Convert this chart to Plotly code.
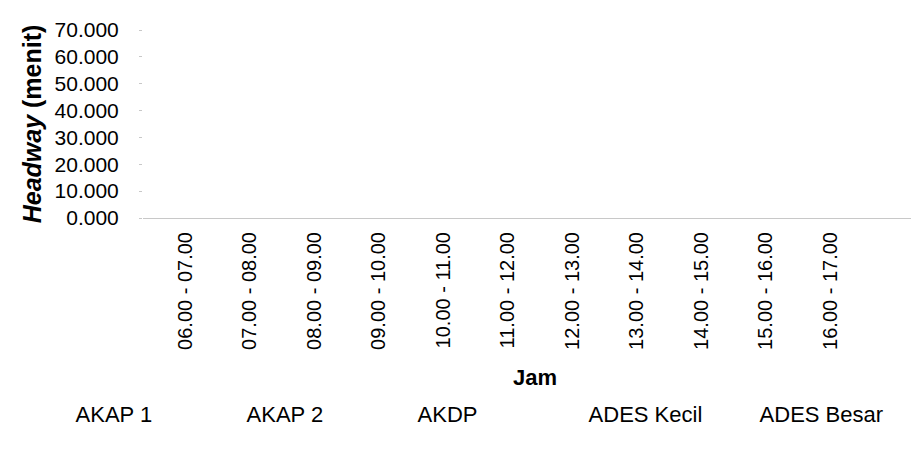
import plotly.graph_objects as go

# Categories (hour intervals)
jam = ["06.00 - 07.00", "07.00 - 08.00", "08.00 - 09.00", "09.00 - 10.00",
       "10.00 - 11.00", "11.00 - 12.00", "12.00 - 13.00", "13.00 - 14.00",
       "14.00 - 15.00", "15.00 - 16.00", "16.00 - 17.00"]

# Series names from the legend; no data marks are visible in the scanned reference
series_names = ["AKAP 1", "AKAP 2", "AKDP", "ADES Kecil", "ADES Besar"]
akap1 = [None] * len(jam)
akap2 = [None] * len(jam)
akdp = [None] * len(jam)
ades_kecil = [None] * len(jam)
ades_besar = [None] * len(jam)
series_values = [akap1, akap2, akdp, ades_kecil, ades_besar]

y_ticks = [0, 10, 20, 30, 40, 50, 60, 70]

FONT = "Liberation Sans, Arial, sans-serif"

fig = go.Figure()
for name, vals in zip(series_names, series_values):
    fig.add_trace(go.Scatter(
        x=jam, y=vals, name=name, mode="lines",
        line=dict(color="rgba(0,0,0,0)", width=1),
        showlegend=True,
    ))

fig.update_layout(
    width=919, height=470,
    margin=dict(l=135, r=0, t=22, b=260),
    paper_bgcolor="white", plot_bgcolor="white",
    font=dict(family=FONT, size=21, color="black"),
    showlegend=True,
    legend=dict(
        orientation="h", x=-0.137, xanchor="left", y=-1.042, yanchor="middle",
        font=dict(family=FONT, size=22, color="black"),
        entrywidth=126, entrywidthmode="pixels",
        itemwidth=30, bgcolor="rgba(0,0,0,0)",
    ),
    xaxis=dict(
        type="category", categoryorder="array", categoryarray=jam,
        range=[-0.651, 11.50], automargin=False,
        tickangle=-90, ticks="", showgrid=False,
        showline=True, linecolor="#c8c8c8", linewidth=1,
        ticklabelstandoff=5,
        tickfont=dict(family=FONT, size=20, color="black"),
        title=dict(text="<b>Jam</b>", standoff=20,
                   font=dict(family=FONT, size=22, color="black")),
    ),
    yaxis=dict(
        range=[0, 70], tickvals=y_ticks, tickformat=".3f", automargin=False,
        showgrid=False, zeroline=False, showline=False,
        ticks="outside", ticklen=3, tickcolor="#c8c8c8",
        ticklabelstandoff=16,
        tickfont=dict(family=FONT, size=21, color="black"),
        title=dict(text="<b><i>Headway</i> (menit)</b>", standoff=5,
                   font=dict(family=FONT, size=25, color="black")),
    ),
)

fig.write_html("out.html")
